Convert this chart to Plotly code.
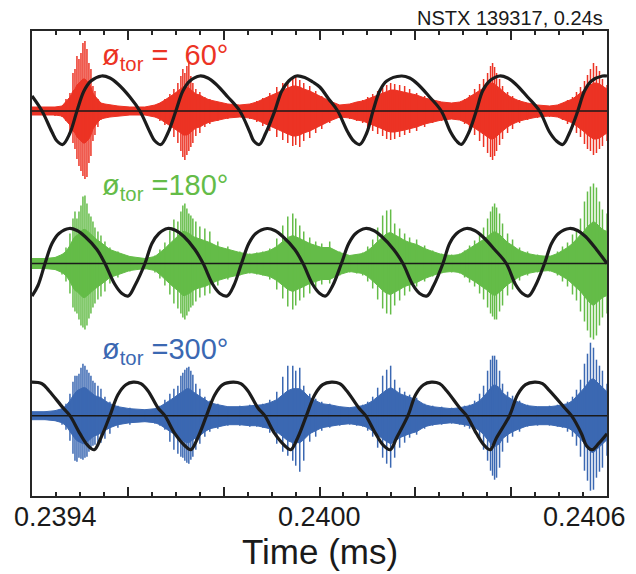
import plotly.graph_objects as go

# ---------------- data ----------------
T0 = 0.2394  # start of window (s)

# common sample times of the burst envelopes, microseconds after T0
ENV_US = [0, 27.1, 48.0, 62.6, 70.9, 79.2, 85.5, 89.7, 93.8, 98.0,
          102.2, 106.3, 110.5, 114.7, 118.8, 123.0, 127.2, 131.4, 137.6, 143.9,
          152.2, 162.6, 179.3, 204.3, 235.6, 256.5, 266.9, 277.3, 287.7, 296.1,
          304.4, 310.7, 314.8, 319.0, 323.2, 327.3, 331.5, 335.7, 341.9, 350.3,
          360.7, 371.1, 387.8, 408.7, 433.7, 454.5, 469.1, 481.6, 496.2, 510.8,
          523.3, 533.8, 544.2, 550.4, 558.8, 567.1, 579.6, 592.1, 604.7, 621.3,
          642.2, 663.0, 677.6, 690.1, 700.6, 711.0, 721.4, 731.8, 740.2, 748.5,
          756.9, 767.3, 777.7, 788.1, 802.7, 819.4, 836.1, 854.9, 875.7, 892.4,
          902.8, 913.2, 923.7, 934.1, 942.4, 950.8, 957.0, 961.2, 965.4, 969.5,
          975.8, 982.0, 992.5, 1002.9, 1017.5, 1034.2, 1055.0, 1080.0, 1096.7, 1107.1,
          1117.6, 1128.0, 1136.3, 1144.7, 1153.0, 1159.3, 1165.5, 1171.8, 1178.0, 1184.3,
          1190.5, 1200.0]

# spike tips (upper / lower) and dense core of the fluctuation bursts (arb. units)
RED_UP = [4, 4, 4, 5, 12, 18, 38, 42, 55, 52,
          58, 68, 70, 62, 48, 42, 25, 20, 12, 8,
          7, 6, 5, 4, 4, 6, 8, 12, 17, 22,
          28, 35, 42, 38, 45, 48, 35, 28, 22, 19,
          14, 12, 9, 7, 6, 7, 10, 13, 18, 24,
          28, 30, 34, 36, 31, 28, 25, 20, 15, 10,
          6, 7, 9, 11, 14, 17, 20, 23, 26, 28,
          27, 26, 25, 22, 18, 15, 11, 9, 8, 9,
          12, 16, 22, 27, 32, 38, 45, 48, 44, 38,
          32, 25, 19, 15, 11, 8, 6, 5, 6, 8,
          11, 14, 19, 24, 30, 36, 42, 48, 45, 40,
          32, 26]
RED_DN = [4, 4, 5, 6, 10, 20, 32, 38, 48, 55,
          60, 65, 68, 66, 52, 45, 30, 24, 16, 9,
          7, 6, 5, 4, 4, 6, 10, 14, 20, 26,
          32, 40, 46, 49, 44, 40, 36, 32, 25, 22,
          16, 13, 10, 8, 6, 8, 11, 15, 20, 26,
          29, 32, 35, 34, 36, 30, 27, 22, 18, 12,
          7, 8, 10, 12, 16, 20, 23, 25, 28, 29,
          28, 26, 24, 22, 20, 16, 12, 10, 8, 9,
          13, 18, 24, 30, 36, 42, 46, 49, 45, 40,
          34, 28, 22, 18, 12, 9, 7, 6, 6, 9,
          13, 16, 22, 26, 33, 38, 40, 44, 42, 38,
          35, 30]
RED_CORE = [4, 4, 4, 5, 9, 14, 20, 22, 26, 28,
            30, 32, 32, 30, 28, 24, 18, 15, 11, 8,
            7, 6, 5, 4, 4, 6, 8, 11, 14, 17,
            20, 22, 24, 24, 24, 23, 21, 19, 17, 16,
            13, 11, 9, 7, 6, 7, 9, 12, 15, 18,
            21, 23, 25, 25, 24, 22, 20, 17, 14, 10,
            6, 7, 9, 10, 12, 14, 16, 18, 20, 21,
            21, 20, 19, 18, 16, 13, 11, 9, 8, 9,
            11, 14, 17, 20, 23, 26, 28, 28, 27, 25,
            23, 20, 16, 13, 10, 8, 6, 5, 6, 8,
            10, 12, 15, 18, 21, 24, 26, 28, 28, 27,
            25, 22]
GREEN_UP = [5, 5, 6, 9, 16, 30, 45, 52, 45, 52,
            58, 67, 68, 60, 50, 47, 42, 36, 32, 28,
            22, 16, 12, 7, 5, 8, 14, 21, 33, 44,
            42, 52, 58, 60, 55, 50, 48, 45, 42, 37,
            35, 32, 22, 17, 12, 10, 11, 12, 15, 25,
            38, 47, 50, 45, 38, 32, 26, 22, 20, 22,
            12, 8, 9, 11, 17, 24, 36, 48, 53, 54,
            40, 35, 30, 26, 24, 18, 13, 10, 9, 10,
            13, 18, 23, 30, 36, 45, 52, 57, 60, 56,
            50, 40, 30, 24, 16, 12, 9, 8, 12, 17,
            21, 29, 34, 45, 62, 72, 77, 80, 76, 62,
            54, 50]
GREEN_DN = [5, 5, 6, 11, 18, 30, 44, 48, 50, 56,
            62, 64, 66, 62, 55, 50, 44, 40, 36, 33,
            28, 20, 14, 8, 6, 9, 15, 22, 31, 40,
            45, 50, 54, 56, 52, 48, 44, 42, 38, 34,
            32, 30, 22, 16, 12, 10, 11, 12, 16, 26,
            35, 43, 46, 42, 37, 34, 30, 24, 21, 20,
            12, 9, 10, 12, 18, 25, 36, 45, 50, 51,
            42, 37, 32, 28, 23, 18, 13, 10, 9, 10,
            14, 19, 23, 30, 36, 44, 50, 53, 56, 56,
            48, 42, 32, 26, 17, 12, 9, 8, 12, 18,
            23, 31, 37, 48, 58, 67, 74, 76, 72, 62,
            54, 50]
GREEN_CORE = [5, 5, 6, 9, 12, 18, 24, 27, 28, 30,
              32, 34, 34, 33, 31, 29, 27, 25, 23, 21,
              18, 14, 11, 7, 5, 7, 11, 15, 20, 24,
              27, 30, 32, 32, 31, 30, 29, 27, 26, 24,
              23, 21, 17, 14, 11, 9, 10, 11, 13, 17,
              22, 26, 28, 27, 25, 23, 20, 18, 16, 16,
              11, 8, 9, 10, 13, 17, 22, 27, 30, 31,
              29, 26, 23, 21, 19, 15, 12, 9, 8, 9,
              12, 15, 18, 21, 24, 27, 30, 31, 32, 31,
              29, 26, 21, 18, 13, 10, 8, 7, 10, 13,
              16, 20, 24, 28, 33, 37, 40, 42, 40, 37,
              34, 32]
BLUE_UP = [4, 4, 5, 7, 12, 22, 34, 40, 40, 42,
           48, 52, 50, 46, 43, 40, 35, 33, 30, 27,
           19, 14, 10, 8, 6, 7, 10, 16, 22, 27,
           30, 40, 43, 46, 48, 49, 45, 41, 32, 27,
           19, 15, 12, 9, 10, 11, 10, 12, 16, 24,
           39, 50, 50, 45, 48, 30, 22, 17, 14, 12,
           9, 8, 9, 11, 14, 19, 28, 40, 46, 50,
           36, 28, 24, 21, 18, 12, 10, 9, 8, 8,
           10, 11, 15, 22, 30, 45, 56, 60, 60, 56,
           45, 32, 24, 20, 15, 11, 9, 10, 11, 12,
           14, 19, 26, 36, 52, 62, 73, 68, 56, 50,
           45, 32]
BLUE_DN = [4, 4, 5, 9, 14, 25, 38, 45, 46, 42,
           43, 44, 42, 41, 36, 33, 30, 29, 28, 27,
           23, 18, 12, 9, 6, 8, 10, 14, 26, 34,
           38, 41, 42, 45, 47, 48, 44, 41, 34, 28,
           21, 16, 13, 10, 10, 11, 11, 12, 17, 28,
           36, 40, 45, 50, 56, 45, 26, 21, 15, 12,
           10, 9, 10, 11, 15, 21, 32, 42, 48, 52,
           42, 32, 27, 22, 19, 13, 10, 9, 8, 9,
           11, 13, 17, 24, 34, 45, 55, 60, 64, 62,
           52, 36, 27, 21, 16, 11, 10, 10, 11, 12,
           16, 21, 30, 41, 55, 65, 75, 74, 62, 56,
           52, 40]
BLUE_CORE = [4, 4, 5, 7, 10, 15, 20, 23, 25, 26,
             27, 28, 28, 27, 25, 23, 21, 20, 19, 18,
             15, 12, 9, 7, 6, 7, 9, 12, 15, 18,
             21, 23, 25, 26, 27, 27, 26, 24, 22, 20,
             16, 13, 11, 9, 9, 10, 10, 11, 13, 16,
             21, 25, 27, 27, 27, 24, 18, 15, 12, 11,
             9, 8, 9, 10, 12, 15, 19, 23, 26, 28,
             26, 22, 20, 18, 16, 11, 9, 8, 7, 8,
             9, 10, 12, 15, 19, 24, 28, 30, 31, 30,
             28, 23, 19, 16, 13, 10, 9, 9, 10, 11,
             12, 15, 19, 23, 28, 32, 36, 37, 34, 31,
             28, 24]

# slow (black) waveforms: sample times (us after T0) and values
RED_FIT_US = [0, 20.9, 41.7, 52.1, 64.0, 79.2, 93.8, 108.4, 123.0, 145.3,
              162.6, 179.3, 204.3, 225.2, 246.0, 256.5, 268.9, 283.6, 300.2, 314.8,
              329.4, 350.3, 367.0, 383.6, 408.7, 433.7, 454.5, 462.9, 474.3, 487.9,
              506.6, 521.2, 535.8, 551.9, 569.2, 585.9, 600.5, 619.2, 638.0, 658.9,
              671.4, 683.9, 698.5, 711.6, 725.6, 740.2, 770.8, 788.1, 804.8, 829.8,
              854.2, 873.6, 886.1, 895.9, 911.1, 927.2, 940.3, 954.9, 975.8, 992.5,
              1009.1, 1034.2, 1059.2, 1080.0, 1094.6, 1107.8, 1121.7, 1139.0, 1153.0, 1167.6,
              1190.5, 1200]
RED_FIT = [15, 0, -21, -30, -33.5, -22, 0, 20, 30, 35,
           33, 27, 14, 0, -21, -30, -33.5, -22, 0, 20,
           30, 35, 33, 27, 14, 0, -21, -30, -33.5, -22,
           0, 20, 30, 35, 33.5, 29, 24, 12, 0, -21,
           -30, -33.5, -22, 0, 20, 30, 35, 33, 27, 14,
           0, -21, -30, -33.5, -22, 0, 20, 30, 35, 33,
           27, 14, 0, -21, -30, -33.5, -22, 0, 20, 30,
           35, 35]
GREEN_FIT_US = [0, 12.5, 27.1, 41.7, 56.3, 77.8, 93.8, 110.5, 135.5, 152.2,
                173.1, 187.7, 200.8, 214.8, 235.7, 250.2, 264.8, 282.9, 300.2, 317.0,
                339.9, 357.2, 377.4, 392.0, 407.2, 421.2, 437.2, 452.4, 467.0, 490.6,
                506.6, 523.3, 548.4, 565.7, 585.9, 600.5, 612.7, 627.6, 645.7, 661.0,
                675.5, 695.8, 713.1, 729.8, 754.8, 774.2, 794.4, 809.0, 824.2, 838.2,
                857.6, 871.5, 886.1, 906.4, 923.7, 940.3, 965.4, 989.8, 1009.1, 1023.7,
                1036.2, 1050.8, 1069.6, 1084.2, 1098.8, 1121.7, 1138.4, 1155.1, 1178.0, 1200]
GREEN_FIT = [-32.5, -22, 0, 20, 30, 35, 33, 27, 14, 0,
             -21, -30, -32.5, -22, 0, 20, 30, 35, 33, 27,
             14, 0, -21, -30, -32.5, -22, 0, 20, 30, 35,
             33, 27, 14, 0, -21, -30, -32.5, -22, 0, 20,
             30, 35, 33, 27, 14, 0, -21, -30, -32.5, -22,
             0, 20, 30, 35, 33, 27, 14, 0, -21, -30,
             -32.5, -22, 0, 20, 30, 35, 33, 27, 14, 0]
BLUE_FIT_US = [0, 20.9, 35.4, 64.6, 79.2, 100.1, 116.8, 129.9, 143.9, 162.6,
               179.3, 196.0, 211.2, 227.3, 241.9, 262.7, 277.3, 298.2, 319.0, 331.5,
               346.1, 364.2, 381.6, 398.2, 419.7, 435.8, 450.4, 471.2, 485.8, 506.6,
               527.5, 540.0, 554.6, 572.7, 590.1, 606.7, 624.9, 642.2, 656.8, 681.8,
               696.4, 717.2, 733.9, 747.5, 761.0, 784.6, 800.6, 817.3, 833.4, 850.7,
               865.3, 892.4, 907.0, 927.8, 944.5, 956.4, 969.5, 996.6, 1013.3, 1030.0,
               1048.8, 1065.4, 1080.0, 1111.3, 1125.9, 1146.8, 1157.2, 1169.1, 1182.2, 1200]
BLUE_FIT = [33.5, 32, 25, 8, 0, -18, -30, -34, -22, 0,
            21, 31, 33.5, 32, 25, 8, 0, -18, -30, -34,
            -22, 0, 21, 31, 33.5, 32, 25, 8, 0, -18,
            -30, -34, -22, 0, 21, 31, 33.5, 32, 25, 8,
            0, -18, -30, -34, -22, 0, 21, 31, 33.5, 32,
            25, 8, 0, -18, -30, -34, -22, 0, 21, 31,
            33.5, 32, 25, 8, 0, -18, -30, -34, -28, -18]

TICK_VALS = [0.2394, 0.2396, 0.2398, 0.2400, 0.2402, 0.2404, 0.2406]
LABEL_VALS = [0.2394, 0.2400, 0.2406]
LABEL_TEXT = ["0.2394", "0.2400", "0.2406"]

LABELS = ["ø<sub>tor</sub> =\u00a0\u00a060°", "ø<sub>tor</sub> =180°", "ø<sub>tor</sub> =300°"]

# ---------------- styling / layout ----------------
for arrs in [(RED_UP, RED_DN, RED_CORE), (GREEN_UP, GREEN_DN, GREEN_CORE),
             (BLUE_UP, BLUE_DN, BLUE_CORE)]:
    for a in arrs:
        assert len(a) == len(ENV_US), (len(a), len(ENV_US))
assert len(RED_FIT) == len(RED_FIT_US), (len(RED_FIT), len(RED_FIT_US))
assert len(GREEN_FIT) == len(GREEN_FIT_US), (len(GREEN_FIT), len(GREEN_FIT_US))
assert len(BLUE_FIT) == len(BLUE_FIT_US), (len(BLUE_FIT), len(BLUE_FIT_US))

FONT = "Liberation Sans, Arial, Helvetica, sans-serif"
AX = "#262626"
COLORS = ["#EC3324", "#64BC48", "#3B68B2"]
OFFSETS = [385, 232.5, 80.3]   # vertical offsets of the three channels
LABEL_Y = [0.945, 0.664, 0.311]


def to_t(us):
    return [T0 + u * 1e-6 for u in us]


fig = go.Figure()

channels = [
    (RED_UP, RED_DN, RED_CORE, RED_FIT_US, RED_FIT),
    (GREEN_UP, GREEN_DN, GREEN_CORE, GREEN_FIT_US, GREEN_FIT),
    (BLUE_UP, BLUE_DN, BLUE_CORE, BLUE_FIT_US, BLUE_FIT),
]

te = to_t(ENV_US)
for (up, dn, core, _, _), col, off in zip(channels, COLORS, OFFSETS):
    # dense core of the oscillation
    xs = te + te[::-1]
    ys = [off + c for c in core] + [off - c for c in core][::-1]
    fig.add_trace(go.Scatter(x=xs, y=ys, mode="lines", fill="toself",
                             fillcolor=col, line=dict(color=col, width=1),
                             hoverinfo="skip", showlegend=False))
    # individual spikes
    sx, sy = [], []
    for t, u, d in zip(te, up, dn):
        sx += [t, t, None]
        sy += [off - d, off + u, None]
    fig.add_trace(go.Scatter(x=sx, y=sy, mode="lines",
                             line=dict(color=col, width=1.5),
                             hoverinfo="skip", showlegend=False))

for (_, _, _, fus, fv), off in zip(channels, OFFSETS):
    fig.add_trace(go.Scatter(x=to_t(fus), y=[off + v for v in fv], mode="lines",
                             line=dict(color="#1c1c1c", width=3.2, shape="spline",
                                       smoothing=1.0),
                             hoverinfo="skip", showlegend=False))

shapes = []
for off in OFFSETS:
    shapes.append(dict(type="line", xref="paper", x0=0, x1=1, yref="y", y0=off, y1=off,
                       line=dict(color="#1a1a1a", width=1.4), layer="above"))

ann = []
for txt, col, ly in zip(LABELS, COLORS, LABEL_Y):
    ann.append(dict(text=txt, xref="paper", yref="paper", x=0.119, y=ly,
                    xanchor="left", yanchor="middle", showarrow=False,
                    font=dict(family=FONT, size=29, color=col)))

anchors = ["left", "center", "right"]
shifts = [-20, 0, 21]
for v, txt, an, sh in zip(LABEL_VALS, LABEL_TEXT, anchors, shifts):
    ann.append(dict(text=txt, xref="x", yref="paper", x=v, y=0, xanchor=an,
                    yanchor="top", xshift=sh, yshift=-4, showarrow=False,
                    font=dict(family=FONT, size=27, color="#1a1a1a")))

ann.append(dict(text="Time (ms)", xref="paper", yref="paper", x=0.5, y=-0.119,
                xanchor="center", yanchor="middle", showarrow=False,
                font=dict(family=FONT, size=35, color="#1a1a1a")))
ann.append(dict(text="NSTX 139317, 0.24s", xref="paper", yref="paper", x=1, y=1.029,
                xanchor="right", yanchor="middle", xshift=-2, showarrow=False,
                font=dict(family=FONT, size=20, color="#1a1a1a")))

# the page adds an 8 px body margin, so the figure is 8 px smaller than the window
fig.update_layout(
    width=628, height=566,
    margin=dict(l=24, r=28.5, t=23, b=78, pad=0),
    paper_bgcolor="white", plot_bgcolor="white",
    showlegend=False,
    shapes=shapes, annotations=ann,
    xaxis=dict(range=[0.2394, 0.2406], showline=True, linecolor=AX, linewidth=2,
               mirror="allticks", ticks="inside", tickvals=TICK_VALS, ticklen=9,
               tickwidth=1.5, tickcolor=AX, showticklabels=False, showgrid=False,
               zeroline=False,
               minor=dict(dtick=0.00005, tick0=0.2394, ticks="inside", ticklen=4,
                          tickwidth=1.5, tickcolor=AX, showgrid=False)),
    yaxis=dict(range=[0, 465], showline=True, linecolor=AX, linewidth=2, mirror=True,
               ticks="", showticklabels=False, showgrid=False, zeroline=False),
)

fig.write_html("out.html")
